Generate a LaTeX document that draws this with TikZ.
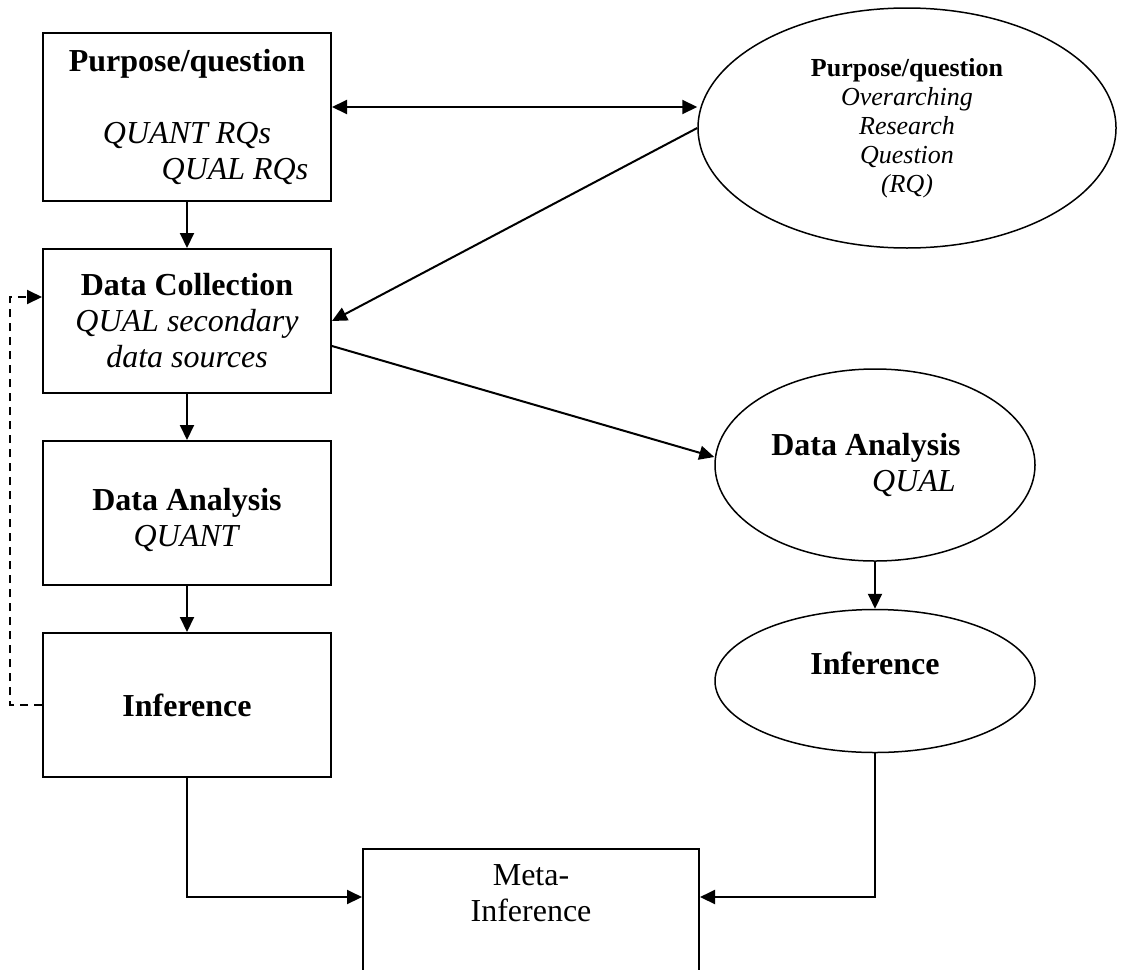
\documentclass[tikz,border=0pt]{standalone}
\usepackage{fontspec}
\setmainfont{Liberation Serif}
\usetikzlibrary{shapes.geometric,arrows.meta}
\tikzstyle{rec} = [rectangle,draw,line width=1pt,text centered,align=center,inner sep=0pt,minimum width=144pt,minimum height=72pt,font=\fontsize{16pt}{18pt}\selectfont]
\tikzstyle{ell} = [ellipse,draw,line width=0.75pt,text centered,align=center,inner sep=0pt,minimum width=160pt,font=\fontsize{16pt}{18pt}\selectfont]

\begin{document}
\begin{tikzpicture}[x=0.5pt,y=-0.5pt,node distance=96pt,>={Triangle[length=7.5pt,width=7pt]},line width=1pt]
    	\clip (0,0) rectangle (1122,969);

    	\node[rec,minimum height=84pt] (purpose) at (187,117) {\textbf{Purpose/question}\\ \mbox{}\\ \textit{QUANT RQs}\\ \hspace*{48pt}\textit{QUAL RQs}};
    	\node[rec,yshift=-6pt,below of=purpose] (collection) {\textbf{Data Collection}\\ \textit{QUAL secondary}\\ \textit{data sources}};
    	\node[rec,below of=collection] (quant) {\mbox{}\\ \textbf{Data Analysis}\\ \textit{QUANT}};
    	\node[rec,below of=quant] (inferq) {\textbf{Inference}};

    	\node[ell,minimum width=209pt,minimum height=120pt,font=\fontsize{13pt}{14.5pt}\selectfont] (overarch) at (907,128) {\textbf{Purpose/question}\\ \textit{Overarching}\\ \textit{Research}\\ \textit{Question}\\ \textit{(RQ)}};
    	\node[ell,minimum height=96pt] (qual) at (875,465) {\textbf{Data Analysis}\hspace*{9pt}\\ \hspace*{39pt}\textit{QUAL}};
    	\node[ell,minimum height=71.5pt,yshift=-12pt,below of=qual] (inferl) {\textbf{Inference}\\ \mbox{}};

    	\node[rec,minimum width=168pt,minimum height=80pt] (meta) at (531,929) {Meta-\\ Inference\\ \mbox{}\\ \mbox{}};

    	\draw[->] (purpose) -- (collection);
    	\draw[->] (collection) -- (quant);
    	\draw[->] (quant) -- (inferq);
    	\draw[<->] ([yshift=5pt]purpose.east) -- ([yshift=5pt]purpose.east -| overarch.west);
    	\draw[->] (overarch.west) -- (collection.east);
    	\draw[->] ([yshift=-12.5pt]collection.east) -- ([yshift=4pt]qual.west);
    	\draw[->] (qual) -- (inferl);
    	\draw[->,dash pattern=on 4pt off 3pt] (inferq.west) -- ++(-16pt,0) |- ([yshift=12pt]collection.west);
    	\draw[->] (inferq.south) |- ([yshift=16pt]meta.west);
    	\draw[->] (inferl.south) |- ([yshift=16pt]meta.east);

    	\end{tikzpicture}
\end{document}
